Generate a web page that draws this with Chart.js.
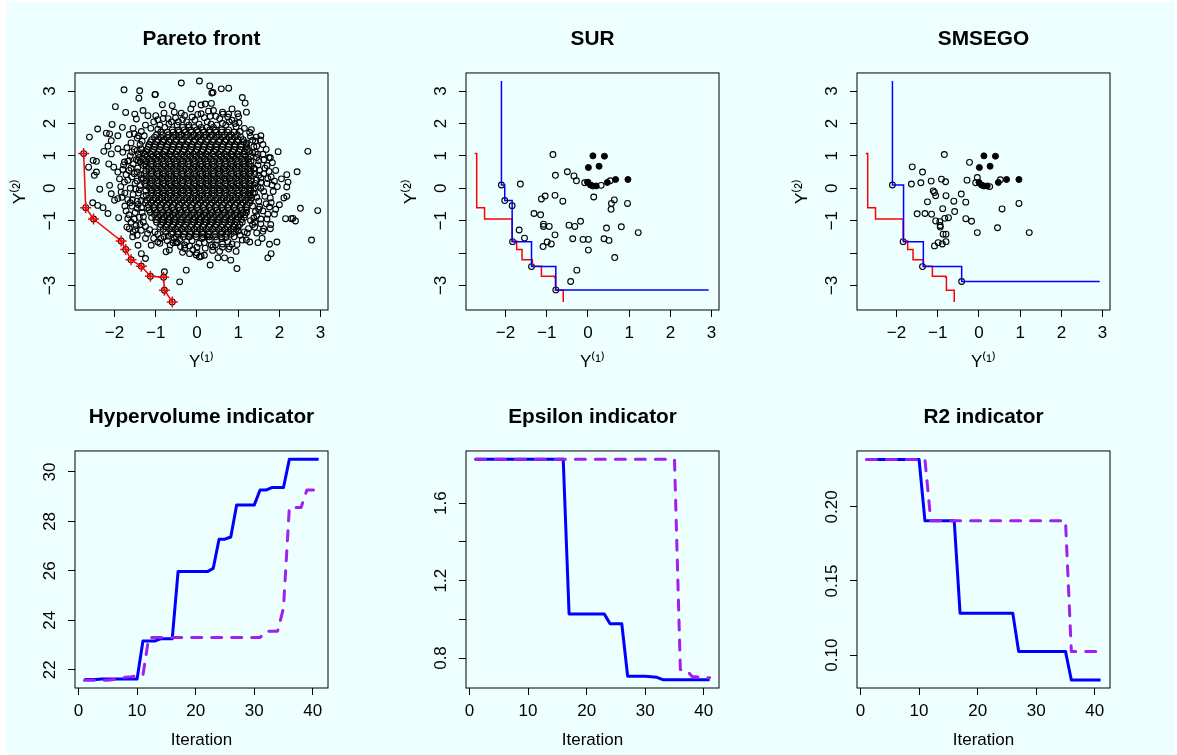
<!DOCTYPE html>
<html>
<head>
<meta charset="utf-8">
<script src="https://cdn.jsdelivr.net/npm/chart.js@4.4.1/dist/chart.umd.min.js"></script>
<style>
  html, body { margin: 0; padding: 0; background: #fff; overflow: hidden; width: 1177px; height: 755px; }
  #page { position: absolute; left: 6px; top: 2px; width: 1169px; height: 753px; background: #eeffff; }
  canvas { position: absolute; }
</style>
</head>
<body>
<div id="page"></div>
<canvas id="pareto"></canvas>
<canvas id="sur"></canvas>
<canvas id="smsego"></canvas>
<canvas id="hv"></canvas>
<canvas id="eps"></canvas>
<canvas id="r2"></canvas>
<script>
/* Six panels of an R-style figure: objective space on top, quality
   indicators per iteration below. */

const BLUE = "#0000ff";
const RED = "#ff0000";
const PURPLE = "#a020f0";
const INK = "#000000";

// ---- top row: objective space ----
const TOP_X_TICKS = [-2, -1, 0, 1, 2, 3];
const TOP_X_LABELS = ["\u22122", "\u22121", "0", "1", "2", "3"];
const TOP_Y_TICKS = [-3, -2, -1, 0, 1, 2, 3];
const TOP_Y_LABELS = ["\u22123", "", "\u22121", "0", "1", "2", "3"];

// true Pareto front (red)
const FRONT_X = [-2.75, -2.70, -2.51, -1.84, -1.73, -1.60, -1.35, -1.13, -0.81, -0.79, -0.60];
const FRONT_Y = [1.07, -0.60, -0.95, -1.63, -1.89, -2.21, -2.41, -2.72, -2.75, -3.15, -3.51];

// sampled cloud, sparse part
const CLOUD_OUTER = [
  [-1.77,3.04],[-1.39,3.01],[-1.41,2.78],[-1.02,2.89],[-1.98,2.52],[-1.73,2.34],[-1.51,2.29],[-1.31,2.40],
  [-1.47,2.14],[-1.19,2.24],[-1.00,2.24],[-0.84,2.58],[-0.80,2.32],[-2.41,1.83],[-2.61,1.58],[-2.06,1.97],
  [-1.81,1.88],[-2.20,1.70],[-2.12,1.68],[-1.92,1.62],[-1.64,1.66],[-2.08,1.47],[-2.16,1.30],[-1.92,1.22],
  [-1.80,1.11],[-2.08,1.06],[-2.26,1.14],[-2.52,0.86],[-2.44,0.83],[-2.63,0.65],[-2.14,0.75],[-1.92,0.50],
  [-2.44,0.50],[-2.49,0.40],[-2.02,0.65],[-1.88,0.29],[-1.76,0.81],[-1.68,0.83],[-1.45,1.17],[-1.43,0.86],
  [-2.36,-0.03],[-2.12,0.09],[-2.08,-0.17],[-1.92,-0.32],[-2.00,-0.37],[-2.53,-0.45],[-2.41,-0.53],[-2.28,-0.60],
  [-2.16,-0.78],[-1.84,-0.12],[-1.76,0.19],[-1.90,-0.91],[-1.68,-0.94],[-1.64,-1.25],[-1.56,-1.50],[-1.43,-1.76],
  [-1.35,-2.02],[-1.25,-2.17],[-1.11,-1.76],[-0.95,-1.66],[-0.75,-1.96],[-0.67,-1.91],[-0.26,-2.53],[-0.42,-2.89],
  [-0.79,-2.58],[-0.18,-2.02],[-0.02,-2.06],[0.06,-2.12],[-0.30,-1.86],[-0.50,-1.66],
  [-0.38,3.25],[0.06,3.31],[0.31,3.16],[0.59,3.07],[0.77,3.09],[0.36,2.94],[-1.01,2.90],[0.39,2.96],
  [0.35,2.62],[0.10,2.57],[0.63,2.29],[0.77,2.29],[1.01,2.21],
  [1.10,2.80],[1.17,2.63],[1.20,2.35],[0.99,2.30],[1.32,1.81],[1.44,1.58],[1.54,1.49],[1.97,1.13],[2.69,1.14],
  [1.78,0.94],[1.83,0.79],[2.43,0.51],[2.18,0.42],[1.91,0.55],[2.05,0.29],[2.21,0.19],[2.18,0.04],[2.18,-0.25],
  [2.11,-0.30],[2.00,-0.51],[1.91,-0.65],[1.76,-0.58],[2.51,-0.62],[2.93,-0.69],[2.15,-0.94],[2.29,-0.94],
  [2.39,-1.01],[2.33,-0.93],[1.79,-1.12],[1.78,-1.25],[1.45,-1.38],[1.60,-1.33],[1.58,-1.55],[1.48,-1.68],
  [1.76,-1.73],[1.94,-1.66],[1.80,-2.02],[1.72,-2.15],[2.78,-1.60],
  [1.20,-1.60],[1.28,-1.66],[0.97,-1.74],[0.79,-1.81],[0.82,-2.22],[0.67,-2.15],[0.51,-2.15],[0.32,-2.37],
  [0.97,-2.48],[0.10,-2.10],[0.18,-2.07],[0.39,-1.81],[0.77,-1.88],
];

// ring of overlapping points around the dense middle
const CLOUD_RING = [
  [-1.55,1.85],[-1.35,1.75],[-1.25,1.95],[-1.45,1.55],[-1.60,1.40],[-1.38,1.35],[-1.52,1.20],[-1.30,1.10],
  [-1.62,1.00],[-1.40,0.95],[-1.55,0.75],[-1.30,0.70],[-1.65,0.55],[-1.45,0.50],[-1.58,0.35],[-1.35,0.30],
  [-1.50,0.15],[-1.62,0.00],[-1.40,-0.05],[-1.55,-0.20],[-1.30,-0.25],[-1.68,-0.35],[-1.45,-0.40],[-1.58,-0.55],
  [-1.35,-0.60],[-1.72,-0.70],[-1.50,-0.75],[-1.40,-0.90],[-1.60,-1.05],[-1.30,-1.05],[-1.48,-1.15],[-1.35,-1.30],
  [-1.20,-1.40],[-1.55,-1.35],
  [-1.05,2.05],[-0.90,1.95],[-0.70,2.15],[-0.55,2.35],[-0.45,2.05],[-0.30,2.25],[-0.15,2.45],[-0.05,2.10],
  [0.10,2.30],[0.25,2.05],[0.40,2.40],[0.55,2.15],[0.70,1.95],[0.85,2.10],[-0.60,2.55],[0.20,2.60],[0.95,1.90],
  [-0.20,1.95],
  [1.15,1.85],[1.30,1.60],[1.20,1.40],[1.45,1.30],[1.35,1.10],[1.60,1.05],[1.25,0.90],[1.50,0.85],[1.70,0.70],
  [1.40,0.60],[1.62,0.45],[1.80,0.35],[1.45,0.25],[1.70,0.15],[1.55,0.00],[1.85,-0.10],[1.40,-0.15],[1.65,-0.25],
  [1.50,-0.40],[1.80,-0.45],[1.35,-0.55],[1.60,-0.70],[1.45,-0.85],[1.70,-0.95],[1.30,-1.00],[1.55,-1.10],
  [1.25,-1.25],[1.40,-1.20],
  [-1.05,-1.55],[-0.90,-1.70],[-0.80,-1.50],[-0.65,-1.75],[-0.55,-1.55],[-0.40,-1.80],[-0.25,-1.65],[-0.10,-1.90],
  [0.05,-1.70],[0.20,-1.85],[0.30,-1.60],[0.45,-1.75],[0.60,-1.55],[0.75,-1.65],[0.90,-1.50],[1.05,-1.45],
  [0.55,-1.95],[1.10,-1.60],
  [-1.42,1.62],[-1.58,1.12],[-1.47,0.88],[-1.72,0.42],[-1.60,0.62],[-1.48,-0.02],[-1.75,-0.15],[-1.62,-0.45],
  [-1.45,-0.62],[-1.52,-0.95],[-1.38,-1.12],[-1.70,-1.20],[-1.25,-1.55],[-1.45,-1.45],[-1.85,0.05],[-1.80,0.58],
  [-1.70,1.25],[-1.75,-0.55],
  [-0.82,2.15],[-0.35,2.12],[0.02,2.28],[0.32,2.22],[0.62,2.35],[0.78,2.05],[1.02,2.02],[-0.95,1.82],
  [-0.68,1.98],[0.48,1.95],[-0.10,2.60],[0.85,2.45],
  [1.55,1.62],[1.42,1.45],[1.68,1.20],[1.48,1.05],[1.62,0.88],[1.75,0.52],[1.55,0.32],[1.88,0.22],
  [1.62,-0.10],[1.78,-0.30],[1.52,-0.58],[1.72,-0.80],[1.55,-0.95],[1.40,-1.05],[1.62,-1.25],[1.88,-0.80],
  [1.95,0.05],[1.65,0.62],
  [-0.95,-1.42],[-0.72,-1.62],[-0.48,-1.68],[-0.18,-1.78],[0.12,-1.55],[0.38,-1.92],[0.62,-1.72],[0.85,-1.72],
  [1.15,-1.35],[-0.35,-1.98],[0.00,-2.00],[0.95,-1.95],
  [-1.28,1.62],[-1.33,1.45],[-1.36,1.22],[-1.42,1.05],[-1.38,0.82],[-1.44,0.62],[-1.37,0.42],[-1.45,0.22],
  [-1.38,0.08],[-1.42,-0.15],[-1.36,-0.38],[-1.43,-0.50],[-1.33,-0.75],[-1.30,-0.88],[-1.25,-1.18],[-1.15,-1.28],
  [-1.52,1.68],[-1.65,0.85],[-1.68,0.25],[-1.52,0.45],[-1.57,-0.35],[-1.65,-0.82],[-1.50,-1.28],[-1.78,0.72],
  [-1.82,-0.28],
  [-0.95,2.12],[-0.78,1.88],[-0.62,2.05],[-0.48,1.95],[-0.38,2.32],[-0.25,2.05],[-0.12,2.20],[0.05,1.98],
  [0.18,2.18],[0.34,1.98],[0.46,2.22],[0.62,2.00],[0.75,2.20],[0.92,2.00],[1.05,1.75],[-1.12,1.85],
  [-0.52,2.18],[0.28,2.38],
  [1.28,1.72],[1.35,1.48],[1.38,1.28],[1.42,1.12],[1.45,0.95],[1.48,0.72],[1.52,0.55],[1.50,0.40],
  [1.55,0.18],[1.48,0.05],[1.45,-0.28],[1.50,-0.65],[1.42,-0.72],[1.38,-0.92],[1.35,-1.12],[1.22,-1.38],
  [1.72,0.30],[1.68,-0.48],[1.82,0.10],[1.60,1.35],[1.75,0.95],
  [-1.02,-1.35],[-0.88,-1.55],[-0.70,-1.48],[-0.58,-1.68],[-0.42,-1.58],[-0.30,-1.75],[-0.12,-1.62],[0.00,-1.82],
  [0.18,-1.68],[0.35,-1.75],[0.48,-1.60],[0.70,-1.52],[0.82,-1.42],[1.00,-1.32],[0.62,-1.82],[-0.20,-1.50],
  [0.25,-1.50],
];

// dense middle, one row per y level (too dense to read point by point)
const CLOUD_CORE = [
  [1.80, [-.6,-.45,-.31,-.15,0,.14,.31,.45,.6,.77]],
  [1.65, [-.98,-.83,-.69,-.52,-.38,-.23,-.07,.08,.22,.37,.53,.67,.83,.98]],
  [1.50, [-1.1,-.95,-.8,-.64,-.5,-.36,-.2,-.05,.1,.26,.4,.55,.71,.85,1,1.12]],
  [1.35, [-1.16,-1.02,-.87,-.72,-.57,-.43,-.28,-.12,.03,.18,.33,.47,.63,.78,.92,1.07,1.2]],
  [1.20, [-1.21,-1.05,-.91,-.76,-.6,-.45,-.31,-.15,0,.15,.3,.46,.6,.75,.9,1.05,1.22]],
  [1.05, [-1.26,-1.12,-.97,-.83,-.67,-.52,-.38,-.23,-.08,.07,.22,.38,.53,.67,.83,.98,1.13]],
  [0.90, [-1.3,-1.15,-1,-.85,-.7,-.56,-.4,-.25,-.1,.05,.2,.35,.5,.65,.8,.95,1.1,1.25]],
  [0.75, [-1.27,-1.12,-.98,-.82,-.67,-.53,-.38,-.22,-.08,.08,.23,.37,.53,.68,.82,.97,1.12,1.27]],
  [0.60, [-1.16,-1,-.86,-.7,-.55,-.4,-.26,-.1,.05,.2,.35,.51,.65,.8,.95,1.1,1.25,1.38]],
  [0.45, [-1.28,-1.12,-.97,-.83,-.68,-.52,-.37,-.23,-.08,.08,.22,.38,.52,.67,.83,.98,1.12,1.27,1.4]],
  [0.30, [-1.3,-1.15,-1.01,-.85,-.7,-.55,-.41,-.25,-.1,.05,.21,.35,.5,.66,.8,.95,1.1,1.25]],
  [0.15, [-1.27,-1.13,-.97,-.82,-.68,-.53,-.37,-.22,-.07,.08,.22,.38,.52,.68,.82,.97,1.13,1.27,1.41]],
  [0.00, [-1.15,-1,-.85,-.71,-.55,-.4,-.25,-.1,.05,.2,.36,.5,.65,.8,.95,1.1,1.26,1.4]],
  [-0.15, [-1.12,-.97,-.83,-.67,-.53,-.38,-.22,-.07,.07,.23,.37,.53,.67,.82,.98,1.12,1.27,1.36]],
  [-0.30, [-1.15,-1,-.85,-.7,-.55,-.4,-.25,-.1,.05,.2,.35,.5,.65,.8,.95,1.1,1.25,1.33]],
  [-0.45, [-1.25,-1.11,-.97,-.82,-.67,-.53,-.37,-.23,-.08,.08,.22,.37,.53,.67,.82,.97,1.12,1.28]],
  [-0.60, [-1.2,-1.05,-.9,-.75,-.6,-.45,-.3,-.15,0,.15,.3,.45,.6,.75,.9,1.05,1.2]],
  [-0.75, [-1.13,-.98,-.83,-.68,-.53,-.38,-.23,-.08,.07,.22,.37,.52,.67,.82,.97,1.12,1.2]],
  [-0.90, [-1.1,-.95,-.8,-.65,-.5,-.35,-.2,-.05,.1,.25,.4,.55,.7,.85,1,1.15]],
  [-1.05, [-.98,-.83,-.68,-.53,-.38,-.23,-.08,.07,.22,.37,.52,.67,.82,.97,1.1]],
  [-1.20, [-.9,-.75,-.6,-.45,-.3,-.15,0,.15,.3,.45,.6,.75,.9,1]],
  [-1.35, [-.76,-.6,-.46,-.3,-.16,0,.14,.3,.45,.6,.76,.9]],
  [-1.50, [-.5,-.33,-.18,-.02,.14,.3,.45,.6]],
];

// second, staggered layer of the middle
const CLOUD_CORE_B = [
  [1.88, [-.35,-.2,-.06,.1,.24,.4]],
  [1.73, [-.88,-.72,-.58,-.44,-.28,-.14,.02,.16,.3,.46,.6,.74,.9]],
  [1.58, [-1.03,-.88,-.72,-.58,-.43,-.28,-.13,.02,.17,.32,.47,.62,.78,.92,1.06]],
  [1.43, [-1.13,-.98,-.83,-.68,-.52,-.37,-.22,-.08,.08,.23,.38,.53,.68,.83,.98,1.13]],
  [1.28, [-1.18,-1.03,-.88,-.73,-.58,-.43,-.28,-.13,.02,.17,.32,.47,.62,.77,.92,1.07,1.2]],
  [1.13, [-1.23,-1.08,-.93,-.78,-.63,-.48,-.33,-.18,-.03,.12,.27,.42,.57,.72,.87,1.02,1.17,1.26]],
  [0.98, [-1.22,-1.07,-.92,-.77,-.62,-.47,-.32,-.17,-.02,.13,.28,.43,.58,.73,.88,1.03,1.18,1.3]],
  [0.83, [-1.24,-1.09,-.94,-.79,-.64,-.49,-.34,-.19,-.04,.11,.26,.41,.56,.71,.86,1.01,1.16,1.31]],
  [0.68, [-1.23,-1.08,-.93,-.78,-.63,-.48,-.33,-.18,-.03,.12,.27,.42,.57,.72,.87,1.02,1.17,1.32]],
  [0.53, [-1.24,-1.09,-.94,-.79,-.64,-.49,-.34,-.19,-.04,.11,.26,.41,.56,.71,.86,1.01,1.16,1.31]],
  [0.38, [-1.23,-1.08,-.93,-.78,-.63,-.48,-.33,-.18,-.03,.12,.27,.42,.57,.72,.87,1.02,1.17,1.32]],
  [0.23, [-1.24,-1.09,-.94,-.79,-.64,-.49,-.34,-.19,-.04,.11,.26,.41,.56,.71,.86,1.01,1.16,1.31]],
  [0.08, [-1.23,-1.08,-.93,-.78,-.63,-.48,-.33,-.18,-.03,.12,.27,.42,.57,.72,.87,1.02,1.17,1.32]],
  [-0.07, [-1.24,-1.09,-.94,-.79,-.64,-.49,-.34,-.19,-.04,.11,.26,.41,.56,.71,.86,1.01,1.16,1.31]],
  [-0.22, [-1.23,-1.08,-.93,-.78,-.63,-.48,-.33,-.18,-.03,.12,.27,.42,.57,.72,.87,1.02,1.17,1.3]],
  [-0.37, [-1.22,-1.07,-.92,-.77,-.62,-.47,-.32,-.17,-.02,.13,.28,.43,.58,.73,.88,1.03,1.18,1.3]],
  [-0.52, [-1.18,-1.03,-.88,-.73,-.58,-.43,-.28,-.13,.02,.17,.32,.47,.62,.77,.92,1.07,1.22]],
  [-0.67, [-1.16,-1.01,-.86,-.71,-.56,-.41,-.26,-.11,.04,.19,.34,.49,.64,.79,.94,1.09,1.2]],
  [-0.82, [-1.03,-.88,-.73,-.58,-.43,-.28,-.13,.02,.17,.32,.47,.62,.77,.92,1.07,1.16]],
  [-0.97, [-1,-.85,-.7,-.55,-.4,-.25,-.1,.05,.2,.35,.5,.65,.8,.95,1.08]],
  [-1.12, [-.88,-.73,-.58,-.43,-.28,-.13,.02,.17,.32,.47,.62,.77,.92,1.04]],
  [-1.27, [-.82,-.67,-.52,-.37,-.22,-.07,.08,.23,.38,.53,.68,.83,.95]],
  [-1.42, [-.62,-.47,-.32,-.17,-.02,.13,.28,.43,.58,.72]],
];

// initial design (filled) shared by SUR and SMSEGO
const INIT_X = [0.12, 0.40, 0.01, 0.27, 0.00, 0.06, 0.12, 0.20, 0.47, 0.67, 0.97];
const INIT_Y = [1.00, 0.99, 0.64, 0.68, 0.18, 0.10, 0.07, 0.07, 0.18, 0.27, 0.27];

// points added by SUR, and the front they reach (blue)
const SUR_X = [-2.10,-2.02,-1.84,-1.83,-1.64,-1.67,-1.54,-1.37,-0.85,-0.79,-0.50,-0.34,-0.28,-1.13,-1.04,-0.80,
  -0.61,-1.31,-1.15,-1.08,-1.08,-0.94,-0.80,-0.99,-1.09,-0.89,-0.46,-0.32,-0.18,-0.37,-0.12,0.01,0.01,-0.27,
  -0.42,-0.78,-0.08,0.14,0.32,0.57,0.64,0.56,0.54,0.96,0.45,0.39,0.51,0.81,0.65,1.22,-0.01];
const SUR_Y = [0.10,-0.38,-0.54,-1.65,0.13,-1.29,-1.54,-2.42,1.04,0.40,0.51,0.38,0.23,-0.33,-0.24,-0.22,
  -0.40,-0.78,-0.82,-1.11,-1.18,-1.18,-1.44,-1.66,-1.80,-1.72,-1.14,-1.18,-1.02,-1.56,-1.58,-1.58,-1.91,-2.53,
  -2.88,-3.14,0.17,-0.27,0.09,-0.47,-0.36,-0.65,0.23,-0.47,-1.23,-1.56,-1.61,-1.19,-2.14,-1.37,0.19];
const SUR_FRONT_X = [-2.10, -2.10, -2.02, -1.84, -1.37, -0.78, 2.93];
const SUR_FRONT_Y = [3.31, 0.10, -0.38, -1.65, -2.42, -3.14, -3.14];

// points added by SMS-EGO, and its front (blue)
const SMS_X = [-2.10,-1.84,-1.37,-0.42,-1.62,-1.37,-1.64,-1.41,-1.16,-0.84,-0.91,-0.81,-0.23,-0.29,-0.04,-0.08,
  -1.11,-1.08,-1.05,-0.80,-0.43,-1.25,-0.61,-0.32,-0.88,-0.59,-1.50,-1.31,-1.15,-1.05,-0.95,-0.83,-0.74,-0.94,
  -0.32,-0.18,-0.94,-0.87,-0.80,-0.04,-0.99,-0.89,-0.80,-1.08,0.56,0.45,0.97,1.22,0.26,0.52];
const SMS_Y = [0.10,-1.65,-2.42,-2.88,0.66,0.50,0.13,0.17,0.22,1.04,0.28,0.20,0.80,0.25,0.33,0.17,
  -0.08,-0.13,-0.23,-0.23,-0.18,-0.42,-0.40,-0.43,-0.63,-0.72,-0.79,-0.78,-0.80,-1.01,-1.03,-0.93,-0.91,-1.15,
  -0.94,-1.02,-1.20,-1.42,-1.42,-1.37,-1.68,-1.72,-1.65,-1.78,-0.64,-1.22,-0.47,-1.37,0.05,0.26];
const SMS_FRONT_X = [-2.10, -2.10, -1.83, -1.35, -0.42, 2.93];
const SMS_FRONT_Y = [3.31, 0.10, -1.65, -2.42, -2.88, -2.88];

// ---- bottom row: indicators per iteration ----
const ITERATION = [1,2,3,4,5,6,7,8,9,10,11,12,13,14,15,16,17,18,19,20,21,22,23,24,25,26,27,28,29,30,
  31,32,33,34,35,36,37,38,39,40,41];
const ITER_TICKS = [0, 10, 20, 30, 40];
const ITER_LABELS = ["0", "10", "20", "30", "40"];

const HV_SUR = [21.60,21.60,21.60,21.62,21.62,21.62,21.62,21.62,21.62,21.62,23.16,23.16,23.16,23.25,23.25,
  23.25,25.97,25.97,25.97,25.97,25.97,25.97,26.10,27.28,27.28,27.37,28.66,28.66,28.66,28.66,29.27,29.27,
  29.37,29.37,29.37,30.51,30.51,30.51,30.51,30.51,30.51];
const HV_SMS = [21.57,21.57,21.57,21.57,21.57,21.60,21.62,21.70,21.72,21.75,21.78,23.30,23.30,23.30,23.30,
  23.30,23.30,23.30,23.30,23.30,23.30,23.30,23.30,23.30,23.30,23.30,23.30,23.30,23.30,23.30,23.30,23.56,
  23.56,23.56,24.50,28.56,28.56,28.56,29.27,29.27,29.27];
const HV_TICKS = [22, 24, 26, 28, 30];
const HV_LABELS = ["22", "24", "26", "28", "30"];

const EPS_SUR = [1.827,1.827,1.827,1.827,1.827,1.827,1.827,1.827,1.827,1.827,1.827,1.827,1.827,1.827,1.827,
  1.827,1.028,1.028,1.028,1.028,1.028,1.028,1.028,0.977,0.977,0.977,0.706,0.706,0.706,0.706,0.703,0.700,
  0.688,0.688,0.688,0.688,0.688,0.688,0.688,0.688,0.688];
const EPS_SMS = [1.827,1.827,1.827,1.827,1.827,1.827,1.827,1.827,1.827,1.827,1.827,1.827,1.827,1.827,1.827,
  1.827,1.827,1.827,1.827,1.827,1.827,1.827,1.827,1.827,1.827,1.827,1.827,1.827,1.827,1.827,1.827,1.827,
  1.827,1.827,1.827,0.740,0.738,0.705,0.702,0.700,0.698];
const EPS_TICKS = [0.8, 1.0, 1.2, 1.4, 1.6];
const EPS_LABELS = ["0.8", "", "1.2", "", "1.6"];

const R2_SUR = [0.232,0.232,0.232,0.232,0.232,0.232,0.232,0.232,0.232,0.232,0.1906,0.1906,0.1906,0.1906,
  0.1906,0.1906,0.1283,0.1283,0.1283,0.1283,0.1283,0.1283,0.1283,0.1283,0.1283,0.1283,0.1025,0.1025,0.1025,
  0.1025,0.1025,0.1025,0.1025,0.1025,0.1025,0.0832,0.0832,0.0832,0.0832,0.0832,0.0832];
const R2_SMS = [0.232,0.232,0.232,0.232,0.232,0.232,0.232,0.232,0.232,0.232,0.232,0.1906,0.1906,0.1906,
  0.1906,0.1906,0.1906,0.1906,0.1906,0.1906,0.1906,0.1906,0.1906,0.1906,0.1906,0.1906,0.1906,0.1906,0.1906,
  0.1906,0.1906,0.1906,0.1906,0.1906,0.1906,0.1025,0.1025,0.1025,0.1025,0.1025,0.1025];
const R2_TICKS = [0.10, 0.15, 0.20];
const R2_LABELS = ["0.10", "0.15", "0.20"];

// ---- helpers ----
Chart.defaults.font.family = '"Liberation Sans", Arial, Helvetica, sans-serif';
Chart.defaults.color = INK;

const AXIS_W = 75;   // room left of the plot box (mirrored on the right)
const TITLE_H = 50;  // room above it
const XAXIS_H = 70;  // room below it
const PLOT_W = 253;
const PLOT_H = 238;

const xy = (xs, ys) => xs.map((x, i) => ({ x, y: ys[i] }));
const pairs = (list) => list.map(([x, y]) => ({ x, y }));
const rows = (list) => list.flatMap(([y, xs]) => xs.map((x) => ({ x, y })));

/** R draws a full box round the plot region */
const frame = {
  id: "frame",
  afterDatasetsDraw(chart) {
    const { ctx, chartArea: a } = chart;
    ctx.save();
    ctx.strokeStyle = INK;
    ctx.lineWidth = 1;
    ctx.strokeRect(a.left, a.top, a.right - a.left, a.bottom - a.top);
    ctx.restore();
  },
};

function xAxis(min, max, ticks, labels, title) {
  return {
    type: "linear", min, max,
    afterBuildTicks: (s) => { s.ticks = ticks.map((value) => ({ value })); },
    afterFit: (s) => { s.height = XAXIS_H; },
    ticks: { callback: (v, i) => labels[i], font: { size: 17 }, padding: 6, maxRotation: 0, autoSkip: false },
    grid: { drawOnChartArea: false, tickLength: 7, color: INK },
    border: { display: false },
    title: { display: true, text: title, font: { size: 17 }, padding: { top: 0, bottom: 7 } },
  };
}

function yAxis(min, max, ticks, labels, pad, title) {
  return {
    type: "linear", min, max,
    afterBuildTicks: (s) => { s.ticks = ticks.map((value) => ({ value })); },
    afterFit: (s) => { s.width = AXIS_W; },
    ticks: {
      callback: (v, i) => labels[i], font: { size: 17 }, padding: pad,
      minRotation: 90, maxRotation: 90, crossAlign: "center", autoSkip: false,
    },
    grid: { drawOnChartArea: false, tickLength: 7, color: INK },
    border: { display: false },
    title: { display: !!title, text: title || "", font: { size: 17 }, padding: { top: 10, bottom: 0 } },
  };
}

/** empty axis on the right so the title centres over the plot box */
const spacer = {
  position: "right",
  afterFit: (s) => { s.width = AXIS_W; },
  ticks: { display: false },
  grid: { display: false },
  border: { display: false },
};

function panel(id, left, top, title, datasets, scales) {
  const canvas = document.getElementById(id);
  canvas.width = AXIS_W + PLOT_W + AXIS_W;
  canvas.height = TITLE_H + PLOT_H + XAXIS_H;
  canvas.style.left = (left - AXIS_W) + "px";
  canvas.style.top = (top - TITLE_H) + "px";
  return new Chart(canvas, {
    type: "scatter",
    data: { datasets },
    options: {
      responsive: false,
      animation: false,
      layout: { padding: 0 },
      plugins: {
        legend: { display: false },
        tooltip: { enabled: false },
        title: {
          display: true, text: title, color: INK,
          font: { size: 20.8, weight: "bold" }, padding: { top: 5, bottom: 21 },
        },
      },
      scales: { ...scales, spacer },
    },
    plugins: [frame],
  });
}

const openPoints = (data) => ({
  data, pointRadius: 2.9, pointBorderWidth: 1.1,
  borderColor: INK, pointBorderColor: INK, backgroundColor: "rgba(0,0,0,0)", pointBackgroundColor: "rgba(0,0,0,0)",
});
const filledPoints = (data) => ({
  data, pointRadius: 3, pointBorderWidth: 1, borderColor: INK, backgroundColor: INK,
});
const stairs = (data, color) => ({
  data, showLine: true, stepped: true, borderColor: color, borderWidth: 1.5, pointRadius: 0,
});
const trace = (data, color, dashed) => ({
  data, showLine: true, borderColor: color, borderWidth: 3, pointRadius: 0,
  borderDash: dashed ? [10, 10] : [], borderCapStyle: dashed ? "round" : "butt", borderJoinStyle: "round",
});

// ---- top row ----
const TOP_XMIN = -2.96, TOP_XMAX = 3.18, TOP_YMIN = -3.76, TOP_YMAX = 3.56;
const topScales = () => ({
  x: xAxis(TOP_XMIN, TOP_XMAX, TOP_X_TICKS, TOP_X_LABELS, "Y\u207D\u00B9\u207E"),
  y: yAxis(TOP_YMIN, TOP_YMAX, TOP_Y_TICKS, TOP_Y_LABELS, 7.8, "Y\u207D\u00B2\u207E"),
});
const cloud = [...pairs(CLOUD_OUTER), ...pairs(CLOUD_RING), ...rows(CLOUD_CORE), ...rows(CLOUD_CORE_B)];

panel("pareto", 75, 72, "Pareto front", [
  {
    data: xy(FRONT_X, FRONT_Y), showLine: true, borderColor: RED, borderWidth: 1.5,
    pointStyle: "cross", pointRadius: 5.5, pointBorderColor: RED, pointBorderWidth: 1.5,
  },
  openPoints(xy(FRONT_X, FRONT_Y)),
  openPoints(cloud),
], topScales());

panel("sur", 466, 72, "SUR", [
  stairs(xy(SUR_FRONT_X, SUR_FRONT_Y), BLUE),
  stairs(xy(FRONT_X, FRONT_Y), RED),
  filledPoints(xy(INIT_X, INIT_Y)),
  openPoints(xy(SUR_X, SUR_Y)),
], topScales());

panel("smsego", 857, 72, "SMSEGO", [
  stairs(xy(SMS_FRONT_X, SMS_FRONT_Y), BLUE),
  stairs(xy(FRONT_X, FRONT_Y), RED),
  filledPoints(xy(INIT_X, INIT_Y)),
  openPoints(xy(SMS_X, SMS_Y)),
], topScales());

// ---- bottom row (dashed purple is drawn over the solid blue) ----
const IT_MIN = -0.6, IT_MAX = 42.6;

panel("hv", 75, 450, "Hypervolume indicator", [
  trace(xy(ITERATION, HV_SMS), PURPLE, true),
  trace(xy(ITERATION, HV_SUR), BLUE, false),
], {
  x: xAxis(IT_MIN, IT_MAX, ITER_TICKS, ITER_LABELS, "Iteration"),
  y: yAxis(21.26, 30.85, HV_TICKS, HV_LABELS, 8),
});

panel("eps", 466, 450, "Epsilon indicator", [
  trace(xy(ITERATION, EPS_SMS), PURPLE, true),
  trace(xy(ITERATION, EPS_SUR), BLUE, false),
], {
  x: xAxis(IT_MIN, IT_MAX, ITER_TICKS, ITER_LABELS, "Iteration"),
  y: yAxis(0.645, 1.87, EPS_TICKS, EPS_LABELS, 5.7),
});

panel("r2", 857, 450, "R2 indicator", [
  trace(xy(ITERATION, R2_SMS), PURPLE, true),
  trace(xy(ITERATION, R2_SUR), BLUE, false),
], {
  x: xAxis(IT_MIN, IT_MAX, ITER_TICKS, ITER_LABELS, "Iteration"),
  y: yAxis(0.0778, 0.2377, R2_TICKS, R2_LABELS, 1),
});
</script>
</body>
</html>
